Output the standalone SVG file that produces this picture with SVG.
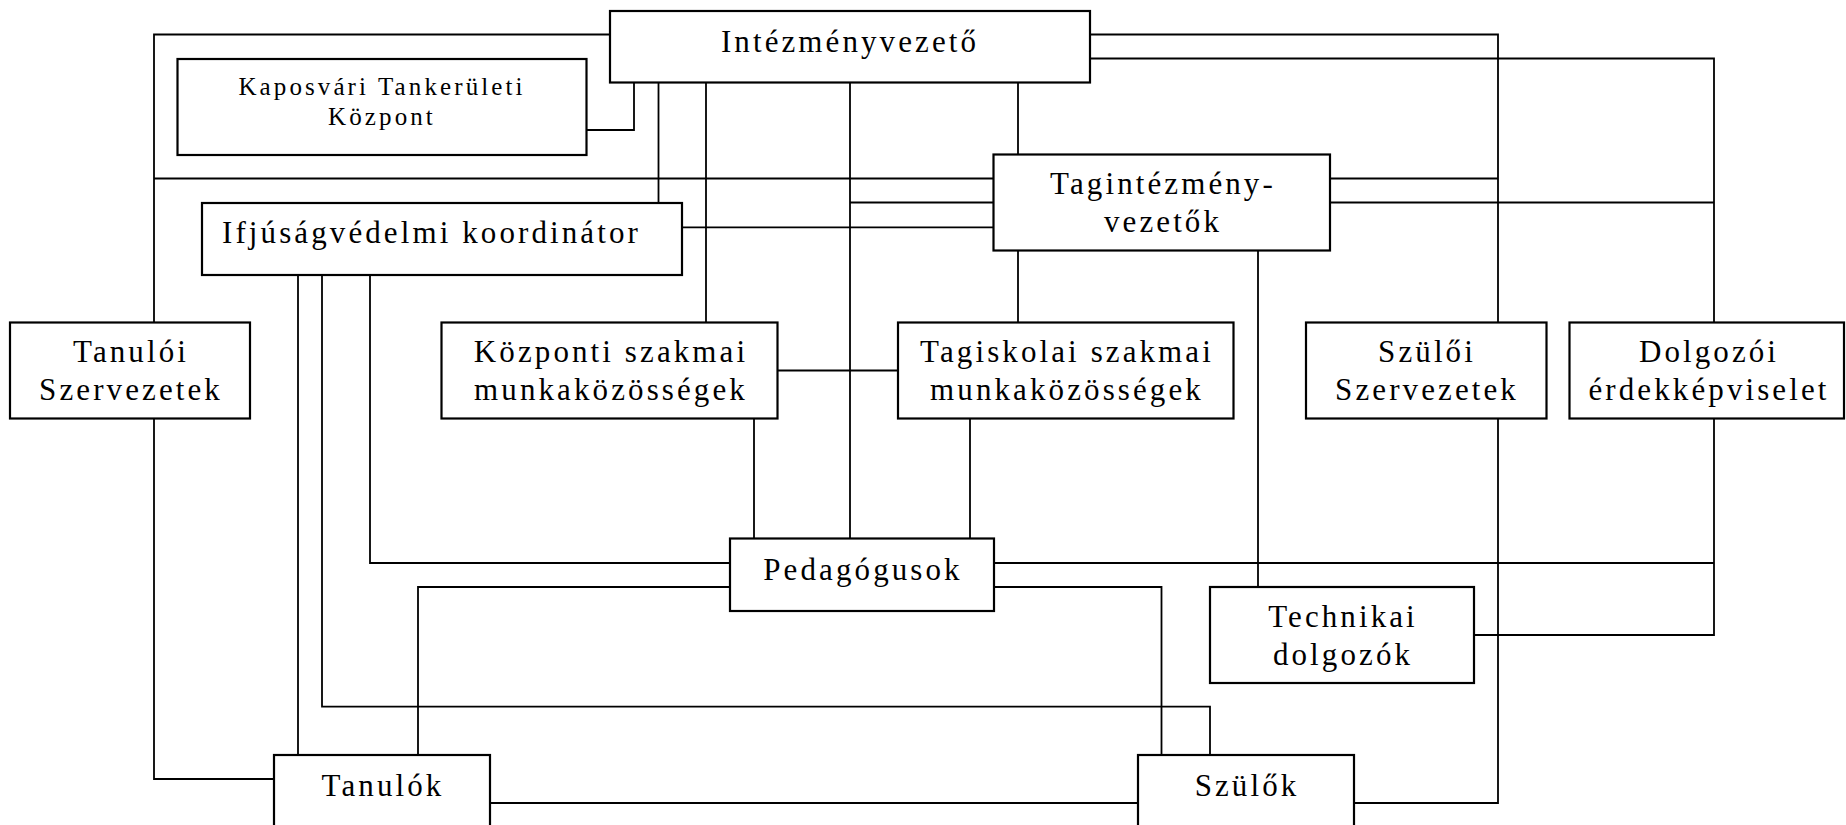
<svg xmlns="http://www.w3.org/2000/svg" width="1846" height="825" viewBox="0 0 1846 825">
<style>
.box{fill:#fff;stroke:#000;stroke-width:2.2}
.ln{fill:none;stroke:#000;stroke-width:1.8}
.t{font-family:"Liberation Serif","Times New Roman",serif;font-size:31px;letter-spacing:3.1px;fill:#000;text-anchor:middle}
.s{font-size:25px;letter-spacing:3.1px}
.l{text-anchor:start}
</style>
<rect width="1846" height="825" fill="#fff"/>
<g id="connectors">
<path class="ln" d="M610,34.5 H154 V779 H274"/>
<path class="ln" d="M586.5,130 H634 V82.5"/>
<path class="ln" d="M658.5,82.5 V203"/>
<path class="ln" d="M706,82.5 V322.5"/>
<path class="ln" d="M850,82.5 V538.5"/>
<path class="ln" d="M1018,82.5 V154.5"/>
<path class="ln" d="M1090,34.5 H1498 V803 H1354"/>
<path class="ln" d="M1090,58.5 H1714 V635 H1474"/>
<path class="ln" d="M154,178.5 H993.5"/>
<path class="ln" d="M850,202.5 H993.5"/>
<path class="ln" d="M682,227.3 H993.5"/>
<path class="ln" d="M1330,178.5 H1498"/>
<path class="ln" d="M1330,202.5 H1714"/>
<path class="ln" d="M1018,250.5 V322.5"/>
<path class="ln" d="M1258,250.5 V587"/>
<path class="ln" d="M777.5,370.5 H898"/>
<path class="ln" d="M754,418.5 V538.5"/>
<path class="ln" d="M970,418.5 V538.5"/>
<path class="ln" d="M298,275 V755"/>
<path class="ln" d="M322,275 V706.7 H1210 V755"/>
<path class="ln" d="M370,275 V563 H730"/>
<path class="ln" d="M994,563 H1714"/>
<path class="ln" d="M730,587 H418 V755"/>
<path class="ln" d="M994,587 H1161.5 V755"/>
<path class="ln" d="M490,803 H1138"/>
</g>
<g id="intezmenyvezeto"><rect class="box" x="610" y="11" width="480" height="71.5"/><text class="t" x="850" y="52">Intézményvezető</text></g>
<g id="ktk"><rect class="box" x="177.5" y="59" width="409" height="96"/><text class="t s" x="382" y="95">Kaposvári Tankerületi</text><text class="t s" x="382" y="125">Központ</text></g>
<g id="ifjusagvedelmi"><rect class="box" x="202" y="203" width="480" height="72"/><text class="t l" x="222" y="242.5">Ifjúságvédelmi koordinátor</text></g>
<g id="tagintezmenyvezetok"><rect class="box" x="993.5" y="154.5" width="336.5" height="96"/><text class="t" x="1163" y="194">Tagintézmény-</text><text class="t" x="1163" y="231.5">vezetők</text></g>
<g id="tanuloi-szervezetek"><rect class="box" x="10" y="322.5" width="240" height="96"/><text class="t" x="131" y="362">Tanulói</text><text class="t" x="131" y="399.5">Szervezetek</text></g>
<g id="kozponti-szakmai"><rect class="box" x="441.5" y="322.5" width="336" height="96"/><text class="t" x="611" y="362">Központi szakmai</text><text class="t" x="611" y="399.5">munkaközösségek</text></g>
<g id="tagiskolai-szakmai"><rect class="box" x="898" y="322.5" width="335.5" height="96"/><text class="t" x="1067" y="362">Tagiskolai szakmai</text><text class="t" x="1067" y="399.5">munkaközösségek</text></g>
<g id="szuloi-szervezetek"><rect class="box" x="1306" y="322.5" width="240.5" height="96"/><text class="t" x="1427" y="362">Szülői</text><text class="t" x="1427" y="399.5">Szervezetek</text></g>
<g id="dolgozoi"><rect class="box" x="1569.5" y="322.5" width="274.5" height="96"/><text class="t" x="1709" y="362">Dolgozói</text><text class="t" x="1709" y="399.5">érdekképviselet</text></g>
<g id="pedagogusok"><rect class="box" x="730" y="538.5" width="264" height="72.5"/><text class="t" x="863" y="580">Pedagógusok</text></g>
<g id="technikai"><rect class="box" x="1210" y="587" width="264" height="96"/><text class="t" x="1343" y="626.5">Technikai</text><text class="t" x="1343" y="665">dolgozók</text></g>
<g id="tanulok"><rect class="box" x="274" y="755" width="216" height="95"/><text class="t" x="383" y="796">Tanulók</text></g>
<g id="szulok"><rect class="box" x="1138" y="755" width="216" height="95"/><text class="t" x="1247" y="796">Szülők</text></g>
</svg>
